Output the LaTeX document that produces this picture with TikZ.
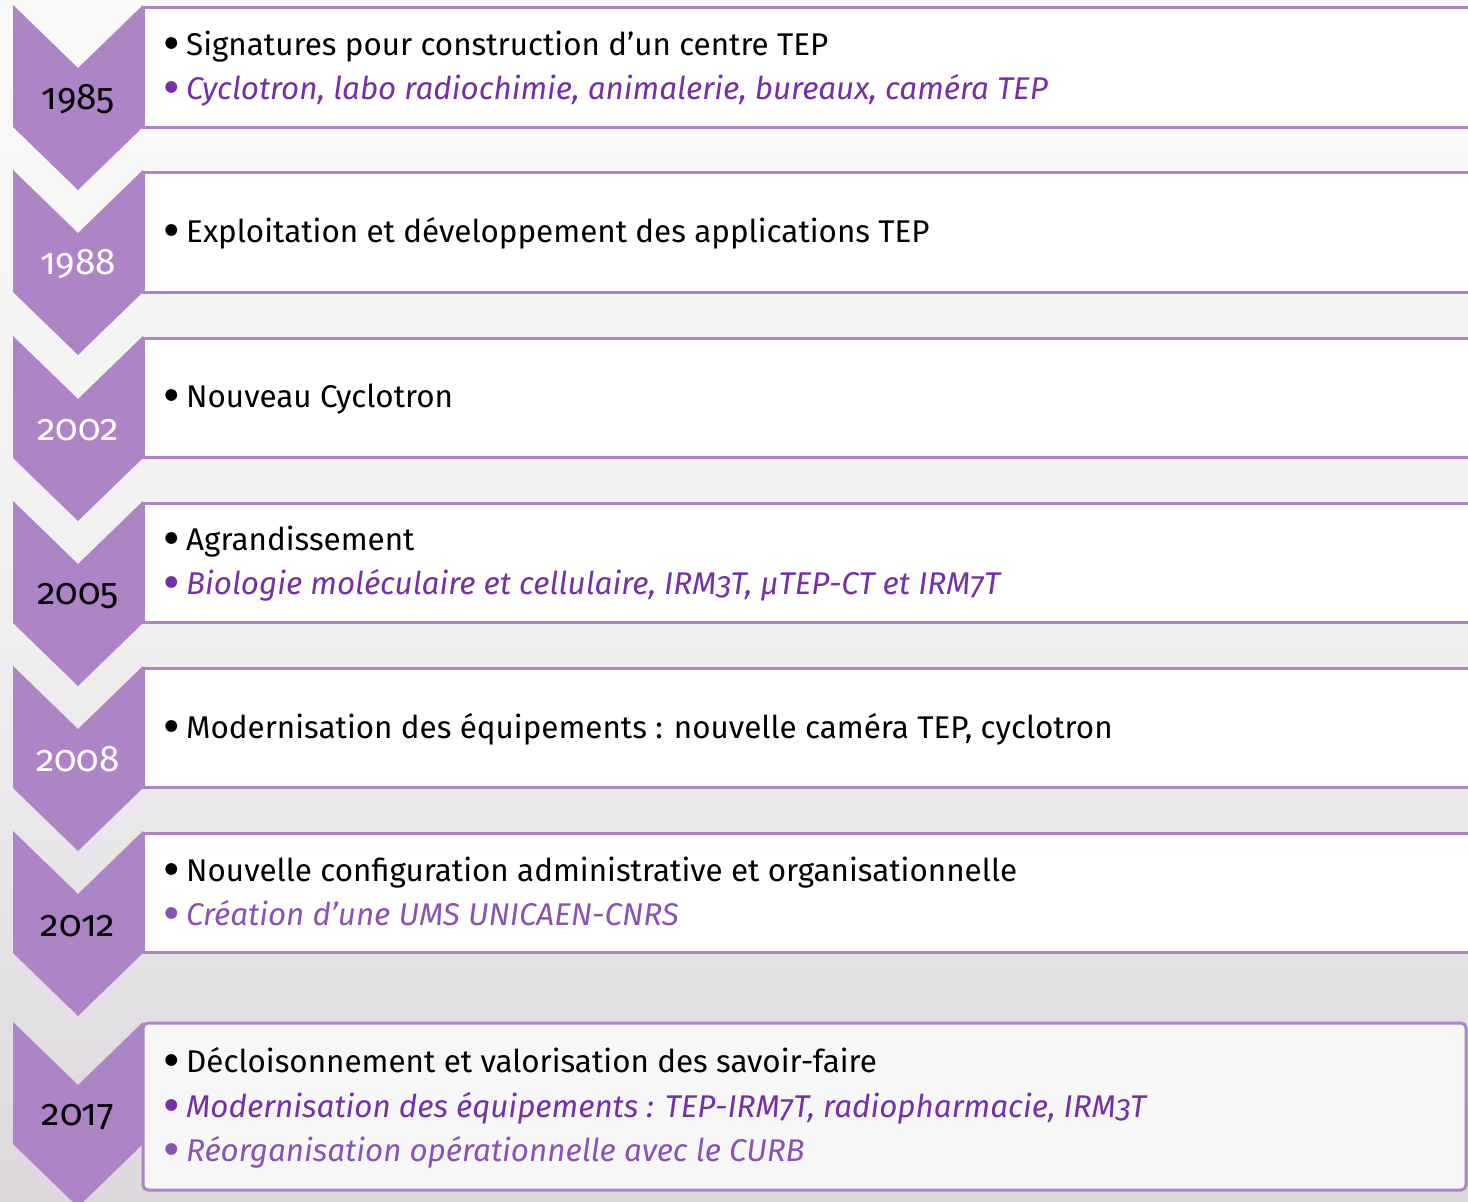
\documentclass[tikz,border=0pt]{standalone}
\usepackage{fontspec}
\setmainfont{Fira Sans}[Numbers=OldStyle]
\newfontfamily\dejavu{DejaVu Sans}
\definecolor{chev}{HTML}{AD84C6}
\definecolor{ptxt}{HTML}{7530A8}
\definecolor{ptxtl}{HTML}{8A52B4}
\definecolor{bgtop}{HTML}{FAFAFA}
\definecolor{bgmid}{HTML}{F1F0F1}
\definecolor{bgbot}{HTML}{DCD8DC}
\tikzset{
  boxst/.style={draw=chev, line width=3pt, fill=white},
  chevst/.style={fill=chev},
  txt/.style={anchor=base west, inner sep=0pt, font=\fontsize{31.4}{36}\selectfont, text=black},
  ptx/.style={txt, font=\fontsize{31.4}{36}\selectfont\itshape, text=ptxt},
  ptxl/.style={txt, font=\fontsize{31.4}{36}\selectfont\itshape, text=ptxtl},
  yearst/.style={inner sep=0pt, font=\fontsize{37}{42}\selectfont},
}
\newcommand{\bul}{\makebox[23pt][l]{\hspace{1.5pt}{\dejavu\fontsize{15.5}{16}\selectfont\raisebox{8pt}{●}}}}
\newcommand{\chevron}[1]{\fill[chevst] (13,#1) -- (78,#1+63) -- (143,#1) -- (143,#1+122) -- (78,#1+185) -- (13,#1+122) -- cycle;}
\begin{document}
\begin{tikzpicture}[x=1pt,y=-1pt]
\useasboundingbox (0,0) rectangle (1468,1202);
\begin{scope}
\clip (0,0) rectangle (1468,1202);
\shade[top color=bgtop, bottom color=bgbot, middle color=bgmid] (0,0) rectangle (1468,1202);
% boxes
\draw[boxst] (143,7) rectangle (1490,127);
\draw[boxst] (143,172) rectangle (1490,292);
\draw[boxst] (143,338) rectangle (1490,457);
\draw[boxst] (143,503) rectangle (1490,622);
\draw[boxst] (143,668) rectangle (1490,787);
\draw[boxst] (143,833) rectangle (1490,952);
\draw[boxst, fill=white!97!black, rounded corners=5pt] (143,1023) rectangle (1466,1190);
% chevrons
\chevron{5}
\chevron{170}
\chevron{336}
\chevron{501}
\chevron{666}
\chevron{831}
\chevron{1022}
\end{scope}
% years
\node[yearst, text=black] (y1) at (78,99) {1985};
\node[yearst, text=white] (y2) at (78,264) {1988};
\node[yearst, text=white] (y3) at (78,430) {2002};
\node[yearst, text=black] (y4) at (78,596) {2005};
\node[yearst, text=white] (y5) at (78,759) {2008};
\node[yearst, text=black] (y6) at (78,926) {2012};
\node[yearst, text=black] (y7) at (78,1117) {2017};
% texts
\node[txt] (t1a) at (163,55) {\bul Signatures pour construction d’un centre TEP};
\node[ptx] (t1b) at (163,99) {\bul Cyclotron, labo radiochimie, animalerie, bureaux, caméra TEP};
\node[txt] (t2a) at (163,242) {\bul Exploitation et développement des applications TEP};
\node[txt] (t3a) at (163,407) {\bul Nouveau Cyclotron};
\node[txt] (t4a) at (163,550) {\bul Agrandissement};
\node[ptx] (t4b) at (163,594) {\bul Biologie moléculaire et cellulaire, IRM3T, µTEP-CT et IRM7T};
\node[txt] (t5a) at (163,738) {\bul Modernisation des équipements : nouvelle caméra TEP, cyclotron};
\node[txt] (t6a) at (163,881) {\bul Nouvelle configuration administrative et organisationnelle};
\node[ptxl] (t6b) at (163,925) {\bul Création d’une UMS UNICAEN-CNRS};
\node[txt] (t7a) at (163,1072) {\bul Décloisonnement et valorisation des savoir-faire};
\node[ptx] (t7b) at (163,1117) {\bul Modernisation des équipements : TEP-IRM7T, radiopharmacie, IRM3T};
\node[ptxl] (t7c) at (163,1161) {\bul Réorganisation opérationnelle avec le CURB};
\end{tikzpicture}
\end{document}
